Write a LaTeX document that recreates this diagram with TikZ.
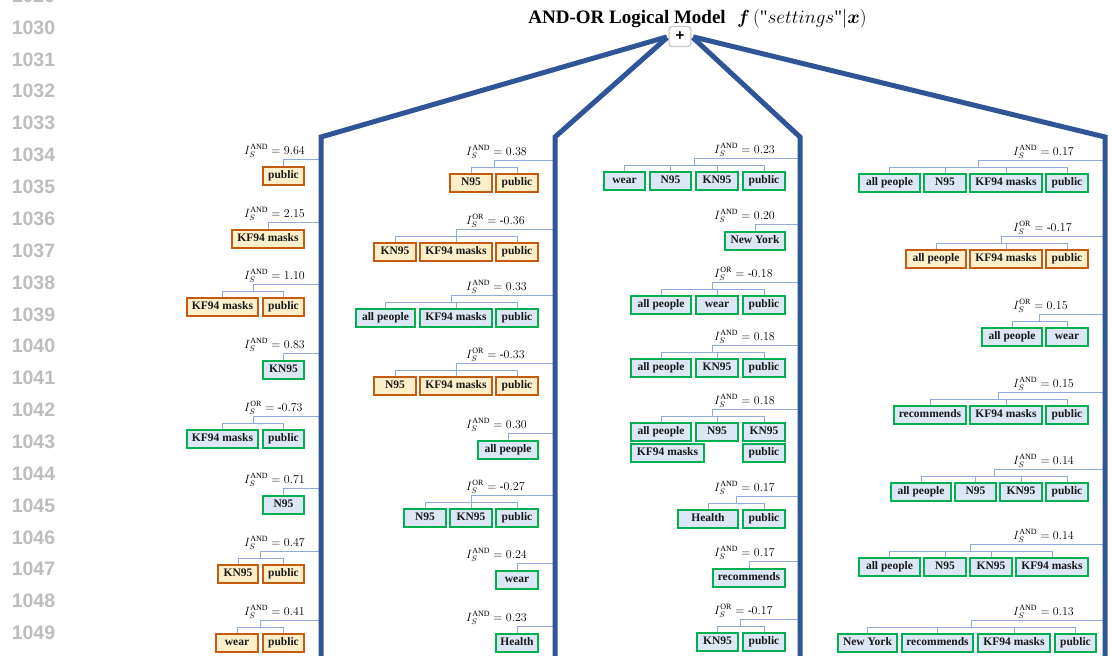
\RequirePackage{fix-cm}
\documentclass[tikz,border=0pt]{standalone}
\usepackage{amsmath}
\usepackage{fontspec}
\setmainfont{Liberation Serif}
\setsansfont{Liberation Sans}
\usetikzlibrary{calc}

\definecolor{trunkblue}{HTML}{2F5597}
\definecolor{linkblue}{HTML}{8FAADC}
\definecolor{oframe}{HTML}{C55A11}
\definecolor{ofill}{HTML}{FDEFC9}
\definecolor{gframe}{HTML}{00B050}
\definecolor{gfill}{HTML}{DCE6F4}
\definecolor{numgray}{HTML}{BDBDBD}

\tikzset{
  trunk/.style={draw=trunkblue, line width=5pt, line join=miter},
  conn/.style={draw=linkblue, line width=0.9pt},
  tbox/.style={rectangle, line width=2pt, inner sep=0pt, minimum height=17.5pt,
    text height=8pt, text depth=2.4pt, text=black!90,
    font=\fontsize{11.5}{13}\selectfont\bfseries},
  lab/.style={inner sep=0pt, anchor=base west, font=\fontsize{12}{14}\selectfont},
  lnum/.style={inner sep=0pt, text=numgray, font=\fontsize{19.5}{22}\selectfont\sffamily\bfseries},
  plusbox/.style={draw=black!20, line width=1.4pt, rounded corners=3pt, fill=white,
    minimum width=22pt, minimum height=20pt, inner sep=0pt,
    font=\fontsize{15}{16}\selectfont\sffamily\bfseries},
}

% One interaction term: #1 id, #2 x of the column trunk, #3 x of the label,
% #4 colour kind (o/g), #5 AND/OR, #6 value, #7 top of the boxes,
% #8 list of left/right/text for the boxes
\newcommand\entry[8]{%
  \foreach \xa/\xb/\tx [count=\k] in {#8} {
    \node[tbox, draw=#4frame, fill=#4fill, minimum width={\xb-\xa-2}]
      (#1-\k) at ({(\xa+\xb)/2},{#7+9.75}) {\tx};
    \xdef\nlast{\k}
  }
  \ifnum\nlast=1
    \coordinate (#1-h) at (#2,{#7-7});
    \node[lab] (#1-l) at (#3,{#7-12}) {$I_S^{\mathrm{#5}} = #6$};
    \draw[conn] (#1-h) -| (#1-1.north);
  \else
    \coordinate (#1-h) at (#2,{#7-13});
    \node[lab] (#1-l) at (#3,{#7-18}) {$I_S^{\mathrm{#5}} = #6$};
    \coordinate (#1-j) at ($(#1-1.north)!0.5!(#1-\nlast.north)+(0,6pt)$);
    \draw[conn] (#1-h) -| (#1-j);
    \foreach \q in {1,...,\nlast} { \draw[conn] (#1-j) -| (#1-\q.north); }
  \fi
}

\begin{document}
\begin{tikzpicture}[x=1pt,y=-1pt]
\path[use as bounding box] (0,0) rectangle (1112,656);
\clip (0,0) rectangle (1112,656);
\fill[white] (0,0) rectangle (1112,656);

% line numbers in the margin
\foreach \n [count=\i from 0] in {1029,...,1049} {
  \node[lnum] (ln\n) at (33.5,{-4.4+\i*31.87}) {\n};
}

% title and root
\node[font=\fontsize{19}{22}\selectfont, anchor=base, inner sep=0pt] (title) at (697.5,23)
  {\textbf{AND-OR Logical Model}\hspace{0.6em}$\boldsymbol{f}\,(\text{\textquotedbl}settings\text{\textquotedbl}|\boldsymbol{x})$};
\node[plusbox] (plus) at (680,36.5) {+};

% trunk corners and ends
\coordinate (t1) at (321,137);  \coordinate (u1) at (321,670);
\coordinate (t2) at (555,137);  \coordinate (u2) at (555,670);
\coordinate (t3) at (800,137);  \coordinate (u3) at (800,670);
\coordinate (t4) at (1105,137); \coordinate (u4) at (1105,670);

% column 1
\entry{a1}{321}{244}{o}{AND}{9.64}{166}{262/305/public}
\entry{a2}{321}{244}{o}{AND}{2.15}{229}{231/305/KF94 masks}
\entry{a3}{321}{244}{o}{AND}{1.10}{297}{186/259/KF94 masks, 262/305/public}
\entry{a4}{321}{244}{g}{AND}{0.83}{360}{262/305/KN95}
\entry{a5}{321}{244}{g}{OR}{\text{-}0.73}{429}{186/259/KF94 masks, 262/305/public}
\entry{a6}{321}{244}{g}{AND}{0.71}{495}{262/305/N95}
\entry{a7}{321}{244}{o}{AND}{0.47}{564}{217/259/KN95, 262/305/public}
\entry{a8}{321}{244}{o}{AND}{0.41}{633}{215/259/wear, 262/305/public}

% column 2
\entry{b1}{555}{466}{o}{AND}{0.38}{173}{449/493/N95, 495/539/public}
\entry{b2}{555}{466}{o}{OR}{\text{-}0.36}{242}{373/417/KN95, 419/493/KF94 masks, 495/539/public}
\entry{b3}{555}{466}{g}{AND}{0.33}{308}{355/416/all people, 419/493/KF94 masks, 495/539/public}
\entry{b4}{555}{466}{o}{OR}{\text{-}0.33}{376}{373/417/N95, 419/493/KF94 masks, 495/539/public}
\entry{b5}{555}{466}{g}{AND}{0.30}{440}{477/539/all people}
\entry{b6}{555}{466}{g}{OR}{\text{-}0.27}{508}{403/447/N95, 449/493/KN95, 495/539/public}
\entry{b7}{555}{466}{g}{AND}{0.24}{570}{495/539/wear}
\entry{b8}{555}{466}{g}{AND}{0.23}{633}{495/539/Health}

% column 3
\entry{c1}{800}{714}{g}{AND}{0.23}{171}{603/646/wear, 649/692/N95, 695/739/KN95, 742/786/public}
\entry{c2}{800}{714}{g}{AND}{0.20}{231}{724/786/New York}
\entry{c3}{800}{714}{g}{OR}{\text{-}0.18}{295}{630/692/all people, 695/739/wear, 742/786/public}
\entry{c4}{800}{714}{g}{AND}{0.18}{358}{630/692/all people, 695/739/KN95, 742/786/public}
% a five-word term set on two rows
\node[tbox, draw=gframe, fill=gfill, minimum width=60] (c5-1) at (661,431.75) {all people};
\node[tbox, draw=gframe, fill=gfill, minimum width=42] (c5-2) at (717,431.75) {N95};
\node[tbox, draw=gframe, fill=gfill, minimum width=42] (c5-3) at (764,431.75) {KN95};
\node[tbox, draw=gframe, fill=gfill, minimum width=73] (c5-4) at (667.5,452.75) {KF94 masks};
\node[tbox, draw=gframe, fill=gfill, minimum width=42] (c5-5) at (764,452.75) {public};
\coordinate (c5-h) at (800,409);
\node[lab] (c5-l) at (714,404) {$I_S^{\mathrm{AND}} = 0.18$};
\coordinate (c5-j) at ($(c5-1.north)!0.5!(c5-3.north)+(0,6pt)$);
\draw[conn] (c5-h) -| (c5-j);
\foreach \q in {1,2,3} { \draw[conn] (c5-j) -| (c5-\q.north); }
\entry{c6}{800}{714}{g}{AND}{0.17}{509}{677/739/Health, 742/786/public}
\entry{c7}{800}{714}{g}{AND}{0.17}{568}{712/786/recommends}
\entry{c8}{800}{714}{g}{OR}{\text{-}0.17}{632}{696/739/KN95, 742/786/public}

% column 4
\entry{d1}{1105}{1013}{g}{AND}{0.17}{173}{858/921/all people, 923/967/N95, 969/1043/KF94 masks, 1045/1089/public}
\entry{d2}{1105}{1013}{o}{OR}{\text{-}0.17}{249}{905/967/all people, 969/1043/KF94 masks, 1045/1089/public}
\entry{d3}{1105}{1013}{g}{OR}{0.15}{327}{981/1043/all people, 1045/1089/wear}
\entry{d4}{1105}{1013}{g}{AND}{0.15}{405}{893/967/recommends, 969/1043/KF94 masks, 1045/1089/public}
\entry{d5}{1105}{1013}{g}{AND}{0.14}{482}{890/952/all people, 954/997/N95, 999/1043/KN95, 1045/1089/public}
\entry{d6}{1105}{1013}{g}{AND}{0.14}{557}{858/921/all people, 923/967/N95, 969/1013/KN95, 1015/1089/KF94 masks}
\entry{d7}{1105}{1013}{g}{AND}{0.13}{633}{837/898/New York, 901/974/recommends, 977/1051/KF94 masks, 1054/1097/public}

% trunks from the root to each column
\draw[trunk, shorten <=1.5pt] (plus.west) -- (t1) -- (u1);
\draw[trunk, shorten <=1.5pt] (plus.west) -- (t2) -- (u2);
\draw[trunk, shorten <=1.5pt] (plus.east) -- (t3) -- (u3);
\draw[trunk, shorten <=1.5pt] (plus.east) -- (t4) -- (u4);
\end{tikzpicture}
\end{document}
